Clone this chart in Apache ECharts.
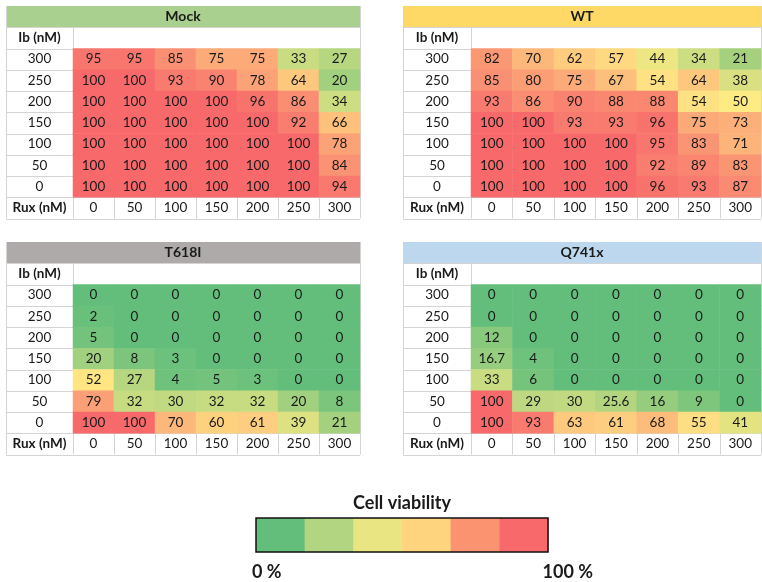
<!DOCTYPE html>
<html>
<head>
<meta charset="utf-8">
<script src="https://cdn.jsdelivr.net/npm/echarts@6/dist/echarts.min.js"></script>
<style>html,body{margin:0;padding:0;background:#fff}#c{width:762px;height:582px}</style>
</head>
<body>
<div id="c"></div>
<script>
// ---- Data ----
const ibLabels = ['300', '250', '200', '150', '100', '50', '0'];   // rows, top to bottom
const ruxLabels = ['0', '50', '100', '150', '200', '250', '300'];  // columns
const panelNames = ['Mock', 'WT', 'T618I', 'Q741x'];
const mockValues = [
  [95, 95, 85, 75, 75, 33, 27],
  [100, 100, 93, 90, 78, 64, 20],
  [100, 100, 100, 100, 96, 86, 34],
  [100, 100, 100, 100, 100, 92, 66],
  [100, 100, 100, 100, 100, 100, 78],
  [100, 100, 100, 100, 100, 100, 84],
  [100, 100, 100, 100, 100, 100, 94]
];
const wtValues = [
  [82, 70, 62, 57, 44, 34, 21],
  [85, 80, 75, 67, 54, 64, 38],
  [93, 86, 90, 88, 88, 54, 50],
  [100, 100, 93, 93, 96, 75, 73],
  [100, 100, 100, 100, 95, 83, 71],
  [100, 100, 100, 100, 92, 89, 83],
  [100, 100, 100, 100, 96, 93, 87]
];
const t618iValues = [
  [0, 0, 0, 0, 0, 0, 0],
  [2, 0, 0, 0, 0, 0, 0],
  [5, 0, 0, 0, 0, 0, 0],
  [20, 8, 3, 0, 0, 0, 0],
  [52, 27, 4, 5, 3, 0, 0],
  [79, 32, 30, 32, 32, 20, 8],
  [100, 100, 70, 60, 61, 39, 21]
];
const q741xValues = [
  [0, 0, 0, 0, 0, 0, 0],
  [0, 0, 0, 0, 0, 0, 0],
  [12, 0, 0, 0, 0, 0, 0],
  [16.7, 4, 0, 0, 0, 0, 0],
  [33, 6, 0, 0, 0, 0, 0],
  [100, 29, 30, 25.6, 16, 9, 0],
  [100, 93, 63, 61, 68, 55, 41]
];
const legendTitle = 'Cell viability';
const legendMinLabel = '0 %';
const legendMaxLabel = '100 %';

// ---- Layout / style ----
const FONT = 'Lato';
const FS = 13.5;
const TXT = '#1a1a1a';
const LINE = '#d4d4d4';
const rowH = 21.25;
const panelLayout = [
  { x: 6, y: 6, w: 354, lw: 67, fill: '#A9D08E' },
  { x: 403, y: 6, w: 358, lw: 68, fill: '#FFD966' },
  { x: 6, y: 242, w: 354, lw: 67, fill: '#AEAAAA' },
  { x: 403, y: 242, w: 358, lw: 68, fill: '#BDD7EE' }
];
const panelData = [mockValues, wtValues, t618iValues, q741xValues];
const scaleColors = ['#63BE7B', '#FFEB84', '#F8696B'];
const legendColors = ['#63BE7B', '#B1D580', '#E9E583', '#FFD47F', '#FB9370', '#F8696B'];

const grids = [], xAxes = [], yAxes = [], series = [], graphics = [];

function hline(x1, x2, y) {
  return { type: 'line', silent: true, shape: { x1: x1, y1: Math.round(y) + 0.5, x2: x2, y2: Math.round(y) + 0.5 }, style: { stroke: LINE, lineWidth: 1 } };
}
function vline(x, y1, y2) {
  return { type: 'line', silent: true, shape: { x1: Math.round(x) + 0.5, y1: y1, x2: Math.round(x) + 0.5, y2: y2 }, style: { stroke: LINE, lineWidth: 1 } };
}

panelLayout.forEach((p, i) => {
  const gl = p.x + p.lw, gt = p.y + 2 * rowH, gw = p.w - p.lw, gh = 7 * rowH;
  grids.push({ left: gl, top: gt, width: gw, height: gh });
  xAxes.push({
    type: 'category', gridIndex: i, data: ruxLabels, position: 'bottom',
    axisLine: { show: false }, axisTick: { show: false }, splitLine: { show: false },
    axisLabel: { margin: rowH / 2, verticalAlign: 'middle', fontFamily: FONT, fontSize: FS, color: TXT, interval: 0 }
  });
  yAxes.push({
    type: 'category', gridIndex: i, data: ibLabels, inverse: true,
    axisLine: { show: false }, axisTick: { show: false }, splitLine: { show: false },
    axisLabel: { margin: p.lw / 2, align: 'center', fontFamily: FONT, fontSize: FS, color: TXT, interval: 0 }
  });
  const data = [];
  panelData[i].forEach((row, r) => row.forEach((v, c) => data.push([c, r, v])));
  series.push({
    type: 'heatmap', name: panelNames[i], xAxisIndex: i, yAxisIndex: i, data: data,
    label: { show: true, formatter: (q) => String(q.value[2]), fontFamily: FONT, fontSize: FS, color: TXT },
    emphasis: { disabled: true }, itemStyle: { borderWidth: 0 }
  });

  // table decoration
  const bottom = p.y + 10 * rowH;
  graphics.push({ type: 'rect', silent: true, shape: { x: p.x, y: p.y, width: p.w, height: rowH }, style: { fill: p.fill } });
  graphics.push({ type: 'text', silent: true, style: { text: panelNames[i], x: p.x + p.w / 2, y: p.y + rowH / 2, align: 'center', verticalAlign: 'middle', font: 'bold 14px ' + FONT, fill: TXT } });
  graphics.push({ type: 'text', silent: true, style: { text: 'Ib (nM)', x: p.x + p.lw / 2, y: p.y + 1.5 * rowH, align: 'center', verticalAlign: 'middle', font: 'bold 13.5px ' + FONT, fill: TXT } });
  graphics.push({ type: 'text', silent: true, style: { text: 'Rux (nM)', x: p.x + p.lw / 2, y: p.y + 9.5 * rowH, align: 'center', verticalAlign: 'middle', font: 'bold 13.5px ' + FONT, fill: TXT } });
  for (let k = 1; k <= 10; k++) graphics.push(hline(p.x, p.x + p.lw, p.y + k * rowH));
  [1, 2, 9, 10].forEach(k => graphics.push(hline(p.x, p.x + p.w, p.y + k * rowH)));
  graphics.push(vline(p.x, p.y, bottom));
  graphics.push(vline(p.x + p.w, p.y, bottom));
  graphics.push(vline(gl, p.y + rowH, bottom));
  for (let c = 1; c < 7; c++) graphics.push(vline(gl + c * gw / 7, p.y + 9 * rowH, bottom));
});

// legend colour bar
const lb = { x: 256, y: 518, w: 292, h: 34 };
const segW = lb.w / legendColors.length;
legendColors.forEach((col, k) => {
  graphics.push({ type: 'rect', silent: true, shape: { x: lb.x + k * segW, y: lb.y, width: segW + 0.5, height: lb.h }, style: { fill: col } });
});
graphics.push({ type: 'rect', silent: true, shape: { x: lb.x, y: lb.y, width: lb.w, height: lb.h }, style: { fill: 'none', stroke: '#111', lineWidth: 1.5 } });
graphics.push({ type: 'text', silent: true, style: { text: legendTitle, x: lb.x + lb.w / 2, y: 503, align: 'center', verticalAlign: 'middle', font: 'bold 18px ' + FONT, fill: TXT } });
graphics.push({ type: 'text', silent: true, style: { text: legendMinLabel, x: 252, y: 572, align: 'left', verticalAlign: 'middle', font: 'bold 18px ' + FONT, fill: TXT } });
graphics.push({ type: 'text', silent: true, style: { text: legendMaxLabel, x: 593, y: 572, align: 'right', verticalAlign: 'middle', font: 'bold 18px ' + FONT, fill: TXT } });

const chart = echarts.init(document.getElementById('c'), null, { renderer: 'canvas' });
chart.setOption({
  animation: false,
  backgroundColor: '#ffffff',
  grid: grids,
  xAxis: xAxes,
  yAxis: yAxes,
  visualMap: {
    show: false, type: 'continuous', min: 0, max: 100, seriesIndex: [0, 1, 2, 3],
    inRange: { color: scaleColors }
  },
  graphic: { elements: graphics },
  series: series
});
</script>
</body>
</html>
